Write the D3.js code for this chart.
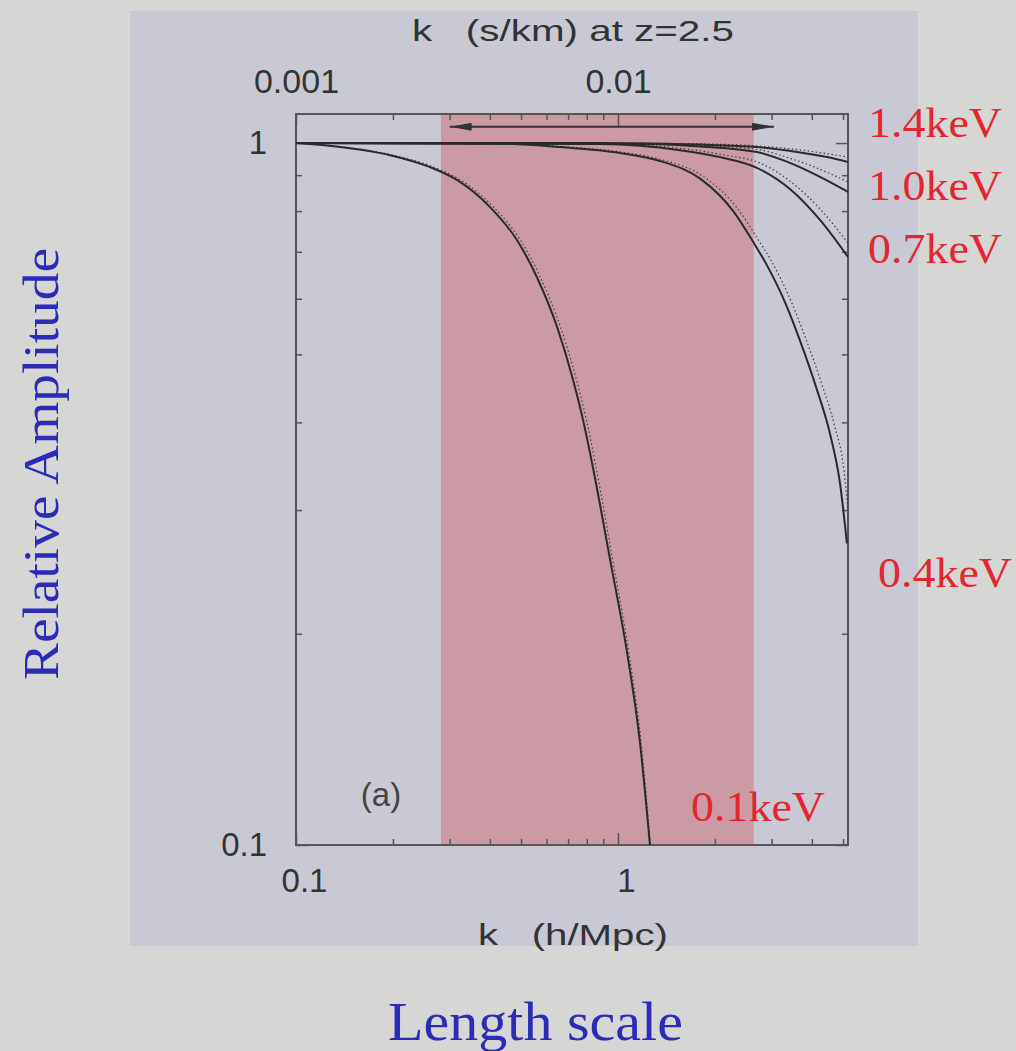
<!DOCTYPE html>
<html>
<head>
<meta charset="utf-8">
<script src="https://cdn.jsdelivr.net/npm/d3@7"></script>
<style>
  html, body { margin: 0; padding: 0; background: #d6d6d4; }
  svg { display: block; }
</style>
</head>
<body>
<div id="chart"></div>
<script>
// ---- data: [k (h/Mpc), relative amplitude] ----
const solid01 = [[0.1, 1], [0.137, 0.987], [0.196, 0.961], [0.261, 0.924], [0.316, 0.886], [0.4, 0.811], [0.486, 0.727], [0.56, 0.644], [0.647, 0.547], [0.725, 0.46], [0.779, 0.403], [0.836, 0.345], [0.945, 0.255], [1.067, 0.188], [1.17, 0.14], [1.257, 0.1]];
const dotted01 = [[0.1, 1], [0.14, 0.987], [0.2, 0.961], [0.268, 0.924], [0.324, 0.886], [0.41, 0.811], [0.498, 0.727], [0.574, 0.644], [0.663, 0.547], [0.743, 0.46], [0.798, 0.403], [0.855, 0.345], [0.962, 0.255], [1.08, 0.188], [1.18, 0.14], [1.26, 0.1]];
const solid04 = [[0.1, 1], [0.43, 0.998], [0.661, 0.987], [1.014, 0.968], [1.349, 0.943], [1.8, 0.89], [2.28, 0.8], [2.62, 0.725], [2.9, 0.67], [3.35, 0.584], [3.67, 0.524], [4.15, 0.445], [4.55, 0.386], [4.89, 0.328], [5.14, 0.269]];
const dotted04 = [[0.1, 1], [0.44, 0.998], [0.68, 0.988], [1.04, 0.97], [1.38, 0.946], [1.85, 0.895], [2.35, 0.807], [2.7, 0.733], [2.99, 0.68], [3.45, 0.595], [3.78, 0.535], [4.27, 0.457], [4.69, 0.398], [5.04, 0.34], [5.18, 0.3]];
const solid07 = [[0.1, 1], [0.88, 0.997], [1.56, 0.977], [2.07, 0.955], [2.7, 0.922], [3.42, 0.86], [4.24, 0.777], [5.18, 0.688]];
const dotted07 = [[0.1, 1], [0.9, 0.998], [1.6, 0.982], [2.1, 0.963], [2.75, 0.937], [3.45, 0.88], [4.3, 0.8], [5.18, 0.72]];
const solid10 = [[0.1, 1], [1.26, 0.997], [1.8, 0.989], [2.7, 0.971], [3.42, 0.937], [4.24, 0.895], [5.18, 0.852]];
const dotted10 = [[0.1, 1], [1.3, 0.998], [1.85, 0.992], [2.75, 0.978], [3.45, 0.95], [4.3, 0.915], [5.18, 0.88]];
const solid14 = [[0.1, 1], [0.88, 1], [1.8, 0.995], [2.7, 0.987], [3.6, 0.971], [4.46, 0.955], [5.18, 0.94]];
const dotted14 = [[0.1, 1], [0.9, 1], [1.85, 0.997], [2.75, 0.99], [3.65, 0.978], [4.5, 0.965], [5.18, 0.955]];

const xDomain = [0.1, 5.18];
const yDomain = [0.1, 1.1];
const xMajorTicks = [0.1, 1];
const xMinorTicks = [0.2, 0.3, 0.4, 0.5, 0.6, 0.7, 0.8, 0.9, 2, 3, 4, 5];
const topMajorTicks = [0.001, 0.01];
const topMinorTicks = [0.002, 0.003, 0.004, 0.005, 0.006, 0.007, 0.008, 0.009, 0.02, 0.03, 0.04, 0.05];
const yMajorTicks = [0.1, 1];
const yMinorTicks = [0.2, 0.3, 0.4, 0.5, 0.6, 0.7, 0.8, 0.9];
const bandRange = [0.282, 2.64];   // shaded k range
const arrowRange = [0.3, 3.05];    // double arrow
const arrowLevel = 1.055;

const curveLabels = [
  { text: "1.4keV", x: 868, y: 137 },
  { text: "1.0keV", x: 868, y: 200 },
  { text: "0.7keV", x: 868, y: 263 },
  { text: "0.4keV", x: 878, y: 587 },
  { text: "0.1keV", x: 691, y: 821 }
];

// Base variables
const w = 1016;
const h = 1051;
const plotLeft = 296, plotRight = 848, plotTop = 114, plotBottom = 845;

const xScale = d3.scaleLog().domain(xDomain).range([plotLeft, plotRight]);
const xTopScale = d3.scaleLog().domain([xDomain[0] * 0.01, xDomain[1] * 0.01]).range([plotLeft, plotRight]);
const yScale = d3.scaleLog().domain(yDomain).range([plotBottom, plotTop]);

const svg = d3.select("#chart").append("svg").attr("width", w).attr("height", h);

// slide panel
svg.append("rect").attr("x", 130).attr("y", 11).attr("width", 788).attr("height", 935).attr("fill", "#c9c9d5");

const defs = svg.append("defs");
defs.append("clipPath").attr("id", "plot-clip")
  .append("rect").attr("x", plotLeft).attr("y", plotTop)
  .attr("width", plotRight - plotLeft).attr("height", plotBottom - plotTop);

// pink band
svg.append("rect")
  .attr("x", xScale(bandRange[0]))
  .attr("y", plotTop)
  .attr("width", xScale(bandRange[1]) - xScale(bandRange[0]))
  .attr("height", plotBottom - plotTop)
  .attr("fill", "#cc9aa5");

// axes, ticks pointing inward
const font = "'Liberation Sans', Arial, sans-serif";
const serif = "'Liberation Serif', 'Times New Roman', serif";
function styleAxis(g, size) {
  g.select(".domain").remove();
  g.selectAll(".tick line").attr("stroke", "#555").attr("stroke-width", 1.5);
  g.selectAll(".tick text").attr("fill", "#333").style("font-family", font).style("font-size", size + "px");
}

svg.append("g").attr("transform", `translate(0,${plotBottom})`)
  .call(d3.axisBottom(xScale).tickValues(xMajorTicks).tickSize(-12).tickPadding(24).tickFormat(d3.format("")))
  .call(g => styleAxis(g, 33))
  .call(g => g.selectAll(".tick text").attr("dx", 8));
svg.append("g").attr("transform", `translate(0,${plotBottom})`)
  .call(d3.axisBottom(xScale).tickValues(xMinorTicks).tickSize(-6).tickFormat(""))
  .call(g => styleAxis(g, 33));

svg.append("g").attr("transform", `translate(0,${plotTop})`)
  .call(d3.axisTop(xTopScale).tickValues(topMajorTicks).tickSize(-12).tickPadding(21).tickFormat(d3.format("")))
  .call(g => styleAxis(g, 34));
svg.append("g").attr("transform", `translate(0,${plotTop})`)
  .call(d3.axisTop(xTopScale).tickValues(topMinorTicks).tickSize(-6).tickFormat(""))
  .call(g => styleAxis(g, 34));

svg.append("g").attr("transform", `translate(${plotLeft},0)`)
  .call(d3.axisLeft(yScale).tickValues(yMajorTicks).tickSize(-12).tickPadding(29).tickFormat(d3.format("")))
  .call(g => styleAxis(g, 33));
svg.append("g").attr("transform", `translate(${plotLeft},0)`)
  .call(d3.axisLeft(yScale).tickValues(yMinorTicks).tickSize(-6).tickFormat(""))
  .call(g => styleAxis(g, 33));
svg.append("g").attr("transform", `translate(${plotRight},0)`)
  .call(d3.axisRight(yScale).tickValues(yMajorTicks).tickSize(-12).tickFormat(""))
  .call(g => styleAxis(g, 33));
svg.append("g").attr("transform", `translate(${plotRight},0)`)
  .call(d3.axisRight(yScale).tickValues(yMinorTicks).tickSize(-6).tickFormat(""))
  .call(g => styleAxis(g, 33));

// frame
svg.append("rect")
  .attr("x", plotLeft).attr("y", plotTop)
  .attr("width", plotRight - plotLeft).attr("height", plotBottom - plotTop)
  .attr("fill", "none").attr("stroke", "#555").attr("stroke-width", 2);

// curves
const line = d3.line()
  .x(d => xScale(d[0]))
  .y(d => yScale(d[1]))
  .curve(d3.curveMonotoneX);

const curves = svg.append("g").attr("clip-path", "url(#plot-clip)");
[dotted01, dotted04, dotted07, dotted10, dotted14].forEach(s => {
  curves.append("path").datum(s).attr("d", line)
    .attr("fill", "none").attr("stroke", "#3a3a3a").attr("stroke-width", 1.2)
    .attr("stroke-dasharray", "1.5,2.5");
});
[solid01, solid04, solid07, solid10, solid14].forEach(s => {
  curves.append("path").datum(s).attr("d", line)
    .attr("fill", "none").attr("stroke", "#2a2a2a").attr("stroke-width", 2);
});

// double arrow
defs.append("marker").attr("id", "arrow-end")
  .attr("viewBox", "0 0 22 8").attr("refX", 22).attr("refY", 4)
  .attr("markerWidth", 22).attr("markerHeight", 8).attr("markerUnits", "userSpaceOnUse")
  .attr("orient", "auto")
  .append("path").attr("d", "M0,0L22,4L0,8Z").attr("fill", "#333");
defs.append("marker").attr("id", "arrow-start")
  .attr("viewBox", "0 0 22 8").attr("refX", 0).attr("refY", 4)
  .attr("markerWidth", 22).attr("markerHeight", 8).attr("markerUnits", "userSpaceOnUse")
  .attr("orient", "auto")
  .append("path").attr("d", "M22,0L0,4L22,8Z").attr("fill", "#333");

svg.append("line")
  .attr("x1", xScale(arrowRange[0])).attr("x2", xScale(arrowRange[1]))
  .attr("y1", yScale(arrowLevel)).attr("y2", yScale(arrowLevel))
  .attr("stroke", "#333").attr("stroke-width", 2)
  .attr("marker-start", "url(#arrow-start)")
  .attr("marker-end", "url(#arrow-end)");

// axis titles
svg.append("text")
  .attr("x", 412).attr("y", 41)
  .attr("fill", "#333")
  .style("font-family", font).style("font-size", "30px")
  .attr("xml:space", "preserve")
  .attr("textLength", 322).attr("lengthAdjust", "spacingAndGlyphs")
  .text("k   (s/km) at z=2.5");

svg.append("text")
  .attr("x", 478).attr("y", 945)
  .attr("fill", "#333")
  .style("font-family", font).style("font-size", "30px")
  .attr("xml:space", "preserve")
  .attr("textLength", 190).attr("lengthAdjust", "spacingAndGlyphs")
  .text("k   (h/Mpc)");

svg.append("text")
  .attr("x", 381).attr("y", 806)
  .attr("text-anchor", "middle")
  .attr("fill", "#444")
  .style("font-family", font).style("font-size", "33px")
  .text("(a)");

// red curve labels
svg.selectAll(".curve-label")
  .data(curveLabels)
  .enter()
  .append("text")
  .attr("class", "curve-label")
  .attr("x", d => d.x).attr("y", d => d.y)
  .attr("fill", "#e3262e")
  .style("font-family", serif)
  .style("font-size", "42px")
  .attr("textLength", 134).attr("lengthAdjust", "spacingAndGlyphs")
  .text(d => d.text);

// blue slide labels
svg.append("text")
  .attr("transform", "translate(58,248) rotate(-90)")
  .attr("x", -432)
  .attr("fill", "#2b2bb8")
  .style("font-family", serif)
  .style("font-size", "50px")
  .attr("textLength", 432).attr("lengthAdjust", "spacingAndGlyphs")
  .text("Relative Amplitude");

svg.append("text")
  .attr("x", 388).attr("y", 1040)
  .attr("fill", "#2b2bb8")
  .style("font-family", serif)
  .style("font-size", "54px")
  .attr("textLength", 295).attr("lengthAdjust", "spacingAndGlyphs")
  .text("Length scale");
</script>
</body>
</html>
